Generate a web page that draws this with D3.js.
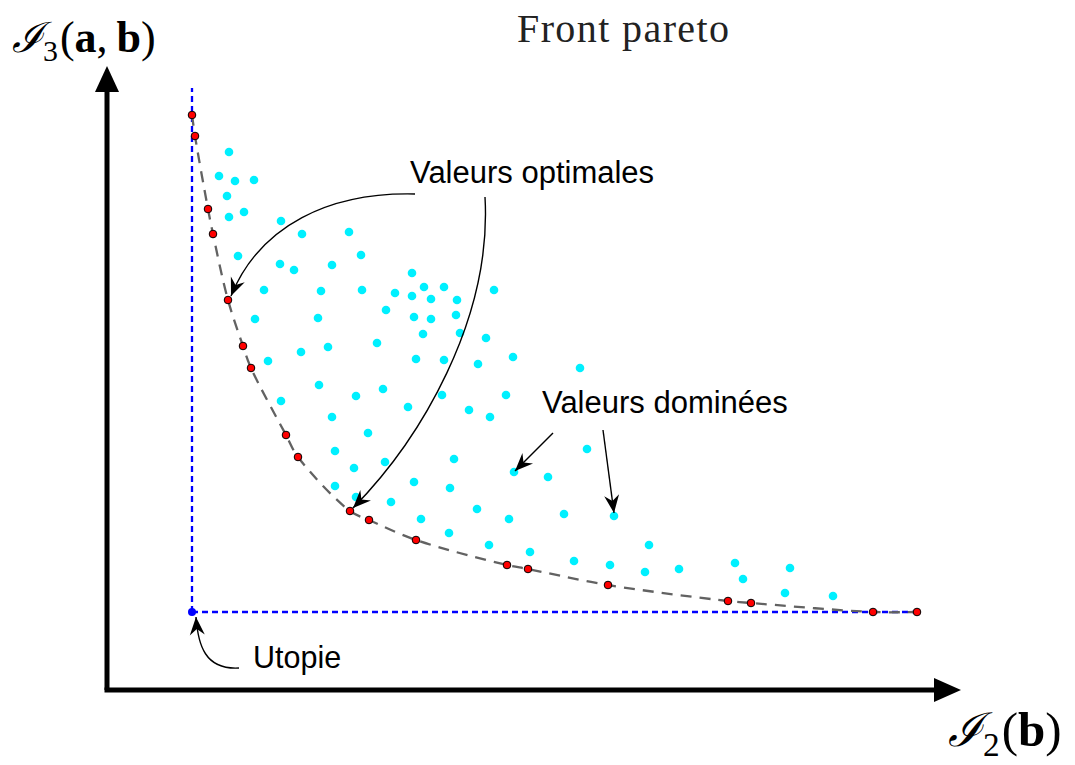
<!DOCTYPE html>
<html>
<head>
<meta charset="utf-8">
<script src="https://cdn.jsdelivr.net/npm/d3@7/dist/d3.min.js"></script>
<style>
  html, body { margin: 0; padding: 0; background: #fff; }
  svg { display: block; }
</style>
</head>
<body>
<svg id="chart" width="1075" height="765"></svg>
<script>
// ---------- DATA (units) ----------
const paretoX = [0.0, 0.3, 1.6, 2.1, 3.6, 5.1, 5.9, 9.4, 10.6, 15.8, 17.7, 22.4, 31.5, 33.6, 41.6, 53.6, 55.9, 68.1, 72.5];
const paretoY = [49.7, 47.6, 40.3, 37.8, 31.2, 26.6, 24.4, 17.7, 15.5, 10.1, 9.2, 7.2, 4.7, 4.3, 2.7, 1.1, 0.9, 0.0, 0.0];

const dominatedX = [3.7, 2.7, 4.3, 6.2, 3.5, 3.7, 5.2, 8.9, 11.0, 15.7, 4.6, 8.8, 10.2, 14.0, 16.9, 22.0, 7.2, 12.9, 17.0, 20.3,
  22.0, 19.4, 6.3, 12.6, 22.2, 10.9, 13.6, 18.5, 7.6, 22.4, 12.7, 16.4, 19.1, 21.6, 8.9, 14.0, 17.6, 14.3, 19.3, 16.2,
  22.2, 14.3, 16.4, 19.9, 22.9, 23.2, 25.2, 23.9, 26.5, 30.2, 23.9, 26.4, 23.1, 26.8, 29.4, 25.2, 28.6, 32.1, 25.0, 27.7,
  29.8, 31.4, 26.2, 32.2, 35.6, 39.5, 25.8, 28.5, 31.7, 37.2, 42.2, 25.7, 29.7, 33.8, 38.2, 41.8, 45.7, 45.3, 48.7, 38.8,
  54.3, 55.1, 59.8, 59.3, 64.1];
const dominatedY = [46.0, 43.6, 43.1, 43.2, 41.6, 39.5, 40.0, 39.1, 37.8, 38.0, 35.6, 34.8, 34.2, 34.7, 35.7, 33.9, 32.2, 32.1, 32.2, 31.9,
  31.6, 30.2, 29.3, 29.4, 29.5, 26.0, 26.5, 26.9, 25.1, 25.3, 22.7, 21.6, 22.3, 20.5, 21.1, 19.5, 17.9, 16.1, 15.0, 14.4,
  13.0, 12.6, 11.5, 11.0, 9.3, 32.5, 32.5, 31.3, 31.2, 32.2, 29.3, 29.7, 27.8, 27.9, 27.4, 25.2, 24.8, 25.5, 21.7, 20.2,
  19.5, 21.7, 15.3, 14.0, 13.5, 16.3, 12.4, 10.3, 9.3, 9.8, 9.6, 7.9, 6.7, 6.0, 5.1, 4.7, 6.7, 4.0, 4.3, 24.4,
  4.9, 3.3, 4.4, 1.9, 1.6];

const utopia = [0, 0];
const utopiaVerticalTop = 52.4;
const utopiaHorizontalEnd = 72.8;

const titleText = "Front pareto";
const labelOptimal = "Valeurs optimales";
const labelDominated = "Valeurs dominées";
const labelUtopia = "Utopie";

// annotation anchors (data units)
const optimalTextPos = [21.8, 42.9];
const dominatedTextPos = [35.0, 19.9];
const utopiaTextPos = [6.1, -5.6];
const arrowOptimal1 = [[22.3, 41.8], [13.8, 42.0], [6.8, 38.7], [3.9, 31.6]];
const arrowOptimal2 = [[29.3, 41.5], [30.0, 29.2], [22.8, 17.2], [16.1, 10.4]];
const arrowDominated1 = [[36.1, 17.9], [32.3, 14.1]];
const arrowDominated2 = [[41.1, 18.2], [42.2, 9.9]];
const arrowUtopia = [[4.7, -5.6], [1.3, -5.8], [0.6, -3.3], [0.4, -0.5]];

// ---------- DRAW ----------
const svg = d3.select("#chart");
const x = d3.scaleLinear().domain([0, 75]).range([192, 942]);
const y = d3.scaleLinear().domain([0, 50]).range([612, 112]);

const defs = svg.append("defs");
defs.append("marker")
  .attr("id", "ah").attr("viewBox", "-20 -10 22 20")
  .attr("refX", 0).attr("refY", 0)
  .attr("markerWidth", 22).attr("markerHeight", 20)
  .attr("markerUnits", "userSpaceOnUse")
  .attr("orient", "auto")
  .append("path").attr("d", "M0,0 L-18,-7.5 L-12,0 L-18,7.5 Z").attr("fill", "#000");

// main axes (frame)
const ax0 = 107, ay0 = 690;
svg.append("path").attr("d", `M${ax0},${ay0} L${ax0},88`).attr("stroke", "#000").attr("stroke-width", 5).attr("fill", "none");
svg.append("path").attr("d", `M${ax0 - 12},92 L${ax0},66 L${ax0 + 12},92 Z`).attr("fill", "#000");
svg.append("path").attr("d", `M${ax0 - 2.5},${ay0} L940,${ay0}`).attr("stroke", "#000").attr("stroke-width", 5).attr("fill", "none");
svg.append("path").attr("d", `M934,${ay0 - 12} L961,${ay0} L934,${ay0 + 12} Z`).attr("fill", "#000");

// utopia dashed lines
svg.append("line")
  .attr("x1", x(utopia[0])).attr("y1", y(utopia[1]))
  .attr("x2", x(utopia[0])).attr("y2", y(utopiaVerticalTop))
  .attr("stroke", "#0000ff").attr("stroke-width", 2.3).attr("stroke-dasharray", "6,4");
svg.append("line")
  .attr("x1", x(utopia[0])).attr("y1", y(utopia[1]))
  .attr("x2", x(utopiaHorizontalEnd)).attr("y2", y(utopia[1]))
  .attr("stroke", "#0000ff").attr("stroke-width", 2.3).attr("stroke-dasharray", "6,4");

// pareto curve
const pareto = paretoX.map((v, i) => [v, paretoY[i]]);
const line = d3.line().x(d => x(d[0])).y(d => y(d[1])).curve(d3.curveCatmullRom.alpha(0.5));
svg.append("path").datum(pareto).attr("d", line)
  .attr("fill", "none").attr("stroke", "#626262").attr("stroke-width", 2.3).attr("stroke-dasharray", "11,8");

// dominated points
const dominated = dominatedX.map((v, i) => [v, dominatedY[i]]);
svg.append("g").selectAll("circle").data(dominated).join("circle")
  .attr("cx", d => x(d[0])).attr("cy", d => y(d[1])).attr("r", 4.3)
  .attr("fill", "#00f0ff");

// pareto points
svg.append("g").selectAll("circle").data(pareto).join("circle")
  .attr("cx", d => x(d[0])).attr("cy", d => y(d[1])).attr("r", 3.8)
  .attr("fill", "#ff0000").attr("stroke", "#000").attr("stroke-width", 1);

// utopia point
svg.append("circle").attr("cx", x(utopia[0])).attr("cy", y(utopia[1])).attr("r", 4).attr("fill", "#0000ff");

// annotation arrows
function cubic(p) {
  const q = p.map(d => [x(d[0]), y(d[1])]);
  return `M${q[0][0]},${q[0][1]} C${q[1][0]},${q[1][1]} ${q[2][0]},${q[2][1]} ${q[3][0]},${q[3][1]}`;
}
function straight(p) {
  return `M${x(p[0][0])},${y(p[0][1])} L${x(p[1][0])},${y(p[1][1])}`;
}
[cubic(arrowOptimal1), cubic(arrowOptimal2), straight(arrowDominated1), straight(arrowDominated2), cubic(arrowUtopia)]
  .forEach(d => svg.append("path").attr("d", d).attr("fill", "none").attr("stroke", "#000")
    .attr("stroke-width", 1.4).attr("marker-end", "url(#ah)"));

// annotation texts
const sans = "'Liberation Sans', Arial, sans-serif";
svg.append("text").attr("x", x(optimalTextPos[0])).attr("y", y(optimalTextPos[1]))
  .attr("font-family", sans).attr("font-size", 31).attr("fill", "#000").text(labelOptimal);
svg.append("text").attr("x", x(dominatedTextPos[0])).attr("y", y(dominatedTextPos[1]))
  .attr("font-family", sans).attr("font-size", 31).attr("fill", "#000").text(labelDominated);
svg.append("text").attr("x", x(utopiaTextPos[0])).attr("y", y(utopiaTextPos[1]))
  .attr("font-family", sans).attr("font-size", 30.5).attr("fill", "#000").text(labelUtopia);

// title
svg.append("text").attr("x", 517).attr("y", 42)
  .attr("font-family", "'Liberation Serif', serif").attr("font-size", 40)
  .attr("letter-spacing", 1.4).attr("fill", "#222").text(titleText);

// axis labels (math)
function mathLabel(px, py, size, sub, args) {
  const t = svg.append("text").attr("x", px).attr("y", py)
    .attr("font-family", "'Liberation Serif', serif").attr("font-size", size).attr("fill", "#000");
  t.append("tspan").attr("font-family", "'DejaVu Serif', serif").attr("font-style", "italic")
    .attr("font-size", size * 0.95).text("ℐ");
  t.append("tspan").attr("font-size", size * 0.68).attr("dy", size * 0.2).text(sub);
  t.append("tspan").attr("dy", -size * 0.2).attr("dx", 2).text("(");
  args.forEach((a, i) => {
    if (i > 0) t.append("tspan").text(",\u2009");
    t.append("tspan").attr("font-weight", "bold").text(a);
  });
  t.append("tspan").text(")");
}
mathLabel(12, 52, 44, "3", ["a", "b"]);
mathLabel(948, 746, 49, "2", ["b"]);
</script>
</body>
</html>
